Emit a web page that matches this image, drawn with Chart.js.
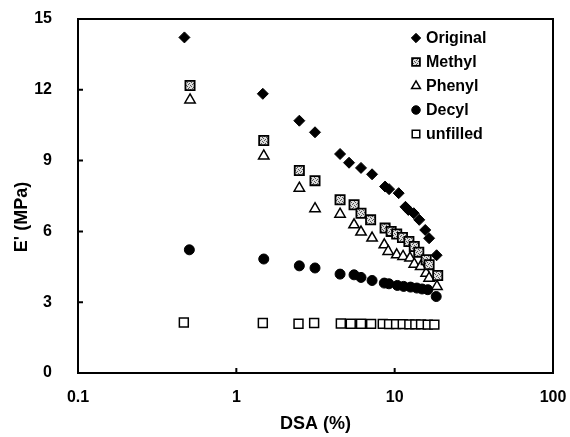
<!DOCTYPE html>
<html>
<head>
<meta charset="utf-8">
<script src="https://cdn.jsdelivr.net/npm/chart.js@4.4.1/dist/chart.umd.min.js"></script>
<style>
  body { margin: 0; background: #fff; }
  #wrap { width: 570px; height: 437px; }
</style>
</head>
<body>
<div id="wrap"><canvas id="dsaChart" width="570" height="437"></canvas></div>
<script>
// values (DSA in %, E' in MPa)
const originalX = [0.47, 1.47, 2.5, 3.14, 4.52, 5.15, 6.13, 7.2, 8.7, 9.22, 10.6, 11.7, 12.2, 13.2, 14.3, 15.6, 16.5, 18.4];
const originalY = [14.22, 11.83, 10.69, 10.2, 9.28, 8.91, 8.69, 8.42, 7.9, 7.79, 7.62, 7.04, 6.91, 6.77, 6.49, 6.06, 5.71, 4.99];

const methylX = [0.51, 1.49, 2.5, 3.14, 4.52, 5.54, 6.13, 7.05, 8.7, 9.5, 10.3, 11.2, 12.3, 13.3, 14.2, 15.8, 16.5, 18.7];
const methylY = [12.18, 9.85, 8.58, 8.15, 7.34, 7.13, 6.77, 6.49, 6.14, 6.0, 5.89, 5.74, 5.57, 5.36, 5.12, 4.8, 4.59, 4.13];

const phenylX = [0.51, 1.49, 2.5, 3.14, 4.52, 5.54, 6.13, 7.2, 8.6, 9.1, 10.3, 11.3, 12.5, 13.3, 14.6, 15.8, 16.5, 18.5];
const phenylY = [11.57, 9.2, 7.83, 6.96, 6.73, 6.28, 5.97, 5.72, 5.43, 5.15, 5.01, 4.94, 4.87, 4.61, 4.51, 4.23, 4.02, 3.67];

const decylX = [0.505, 1.49, 2.5, 3.14, 4.52, 5.54, 6.13, 7.2, 8.6, 9.2, 10.4, 11.4, 12.6, 13.8, 14.9, 16.2, 18.3];
const decylY = [5.22, 4.83, 4.54, 4.45, 4.19, 4.16, 4.05, 3.92, 3.81, 3.78, 3.71, 3.67, 3.64, 3.6, 3.56, 3.53, 3.24];

const unfilledX = [0.466, 1.47, 2.47, 3.1, 4.57, 5.28, 6.13, 7.1, 8.41, 9.22, 10.21, 11.25, 12.38, 13.51, 14.68, 16.18, 17.81];
const unfilledY = [2.14, 2.12, 2.09, 2.12, 2.1, 2.09, 2.09, 2.08, 2.08, 2.07, 2.07, 2.07, 2.06, 2.06, 2.06, 2.05, 2.05];

const seriesNames = ['Original', 'Methyl', 'Phenyl', 'Decyl', 'unfilled'];
const xTicks = [0.1, 1, 10, 100];
const xTickLabels = ['0.1', '1', '10', '100'];
const yTicks = [0, 3, 6, 9, 12, 15];

const FONT = 'Liberation Sans, Arial, sans-serif';

function pts(xs, ys) {
    return xs.map((x, i) => ({ x: x, y: ys[i] }));
}

// speckled grey fill for the Methyl squares
function speckle() {
    const c = document.createElement('canvas');
    c.width = 4; c.height = 4;
    const g = c.getContext('2d');
    g.fillStyle = '#dcdcdc';
    g.fillRect(0, 0, 4, 4);
    g.fillStyle = '#555';
    g.fillRect(0, 0, 1, 1);
    g.fillRect(2, 1, 1, 1);
    g.fillRect(1, 3, 1, 1);
    g.fillRect(3, 2, 1, 1);
    return g.createPattern(c, 'repeat');
}

// frame, inward ticks, axis titles and the legend
const decorPlugin = {
    id: 'decor',
    afterDraw(chart) {
        const ctx = chart.ctx;
        const a = chart.chartArea;
        const xs = chart.scales.x, ys = chart.scales.y;
        ctx.save();
        ctx.strokeStyle = '#000';
        ctx.lineWidth = 2;
        ctx.strokeRect(a.left, a.top, a.right - a.left, a.bottom - a.top);

        ctx.beginPath();
        yTicks.slice(1, -1).forEach(v => {
            const py = ys.getPixelForValue(v);
            ctx.moveTo(a.left, py);
            ctx.lineTo(a.left + 5, py);
        });
        xTicks.slice(1, -1).forEach(v => {
            const px = xs.getPixelForValue(v);
            ctx.moveTo(px, a.bottom);
            ctx.lineTo(px, a.bottom - 5);
        });
        ctx.stroke();

        ctx.fillStyle = '#000';
        ctx.font = 'bold 18px ' + FONT;
        ctx.textAlign = 'center';
        ctx.textBaseline = 'middle';
        ctx.fillText('DSA (%)', (a.left + a.right) / 2, 424);
        ctx.save();
        ctx.translate(22, 217);
        ctx.rotate(-Math.PI / 2);
        ctx.fillText("E' (MPa)", 0, 0);
        ctx.restore();

        // legend
        ctx.font = 'bold 16px ' + FONT;
        ctx.textAlign = 'left';
        chart.data.datasets.forEach((ds, i) => {
            const my = 38 + i * 24;
            const mx = a.right - 137;
            ctx.fillStyle = ds.pointBackgroundColor;
            ctx.strokeStyle = '#000';
            ctx.lineWidth = ds.pointBorderWidth;
            Chart.helpers.drawPoint(ctx, {
                pointStyle: ds.pointStyle,
                radius: ds.pointRadius * 0.85,
                borderWidth: ds.pointBorderWidth,
                rotation: 0
            }, mx, my);
            ctx.fillStyle = '#000';
            ctx.fillText(ds.label, mx + 10, my + 1);
        });
        ctx.restore();
    }
};

document.addEventListener('DOMContentLoaded', function () {
    const ctx = document.getElementById('dsaChart').getContext('2d');
    const methylFill = speckle();

    const styles = [
        { pointStyle: 'rectRot', pointRadius: 5.5, pointBackgroundColor: '#000', pointBorderWidth: 1 },
        { pointStyle: 'rect', pointRadius: 6.5, pointBackgroundColor: methylFill, pointBorderWidth: 1.8 },
        { pointStyle: 'triangle', pointRadius: 6, pointBackgroundColor: '#fff', pointBorderWidth: 1.5 },
        { pointStyle: 'circle', pointRadius: 5, pointBackgroundColor: '#000', pointBorderWidth: 1 },
        { pointStyle: 'rect', pointRadius: 6.3, pointBackgroundColor: '#fff', pointBorderWidth: 1.5 }
    ];
    const allData = [
        pts(originalX, originalY),
        pts(methylX, methylY),
        pts(phenylX, phenylY),
        pts(decylX, decylY),
        pts(unfilledX, unfilledY)
    ];

    new Chart(ctx, {
        type: 'scatter',
        data: {
            datasets: seriesNames.map((name, i) => Object.assign({
                label: name,
                data: allData[i],
                pointBorderColor: '#000',
                pointHoverRadius: styles[i].pointRadius,
                showLine: false
            }, styles[i]))
        },
        options: {
            responsive: false,
            animation: false,
            layout: { padding: { top: 19, right: 17, left: 0, bottom: 0 } },
            plugins: {
                legend: { display: false },
                tooltip: { enabled: false }
            },
            scales: {
                x: {
                    type: 'logarithmic',
                    min: 0.1,
                    max: 100,
                    border: { display: false },
                    grid: { display: false, drawTicks: false },
                    afterBuildTicks: s => { s.ticks = xTicks.map(v => ({ value: v })); },
                    afterFit: s => {
                        s.height = 64;
                        s.paddingLeft = 0;
                        s.paddingRight = 0;
                    },
                    ticks: {
                        autoSkip: false,
                        maxRotation: 0,
                        padding: 15,
                        color: '#000',
                        font: { family: FONT, size: 16, weight: 'bold' },
                        callback: (v) => xTickLabels[xTicks.indexOf(v)] ?? ''
                    }
                },
                y: {
                    min: 0,
                    max: 15,
                    border: { display: false },
                    grid: { display: false, drawTicks: false },
                    afterFit: s => {
                        s.width = 78;
                        s.paddingTop = 0;
                        s.paddingBottom = 0;
                    },
                    ticks: {
                        stepSize: 3,
                        padding: 26,
                        color: '#000',
                        font: { family: FONT, size: 16, weight: 'bold' }
                    }
                }
            }
        },
        plugins: [decorPlugin]
    });
});
</script>
</body>
</html>
